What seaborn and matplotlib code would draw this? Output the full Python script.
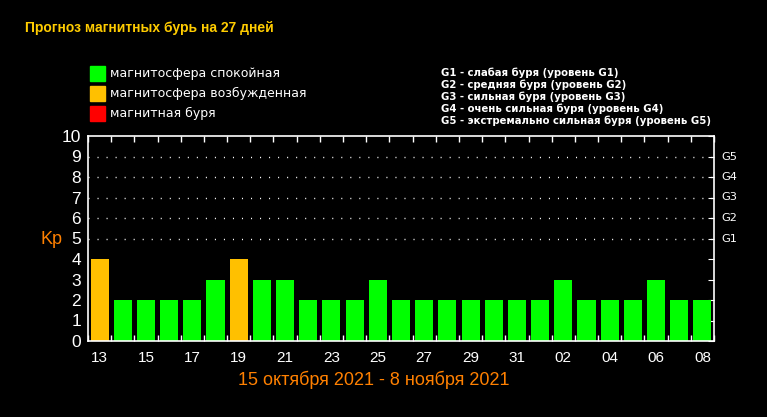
import matplotlib
matplotlib.use("Agg")
import matplotlib.pyplot as plt
import seaborn as sns
import pandas as pd
import numpy as np

days = ["13", "14", "15", "16", "17", "18", "19", "20", "21", "22", "23", "24", "25",
        "26", "27", "28", "29", "30", "31", "01", "02", "03", "04", "05", "06", "07", "08"]
kp = [4, 2, 2, 2, 2, 3, 4, 3, 3, 2, 2, 2, 3, 2, 2, 2, 2, 2, 2, 2, 3, 2, 2, 2, 3, 2, 2]
status = ["возб" if v >= 4 else "спок" for v in kp]
legend_labels = ["магнитосфера спокойная", "магнитосфера возбужденная", "магнитная буря"]
legend_colors = ["#00FF00", "#FFC000", "#FF0000"]
g_levels = ["G1", "G2", "G3", "G4", "G5"]
g_desc = ["G1 - слабая буря (уровень G1)",
          "G2 - средняя буря (уровень G2)",
          "G3 - сильная буря (уровень G3)",
          "G4 - очень сильная буря (уровень G4)",
          "G5 - экстремально сильная буря (уровень G5)"]
title = "Прогноз магнитных бурь на 27 дней"
date_range = "15 октября 2021 - 8 ноября 2021"

sns.set_style("dark")
plt.rcParams['font.family'] = ['DejaVu Sans']

fig = plt.figure(figsize=(7.67, 4.17), dpi=100, facecolor="black")
ax = fig.add_axes([88/767, 1-341/417, (714-88)/767, (341-136)/417])
ax.set_facecolor("black")

df = pd.DataFrame({"pos": np.arange(len(days)), "kp": kp, "status": status})
sns.barplot(data=df, x="pos", y="kp", hue="status", dodge=False, width=0.78,
            palette={"спок": legend_colors[0], "возб": legend_colors[1]},
            legend=False, ax=ax, saturation=1, linewidth=0)

ax.set_xlim(-0.5, len(days)-0.5)
ax.set_ylim(0, 10)
for s in ax.spines.values():
    s.set_color("white")
    s.set_linewidth(1.2)

for y in [5, 6, 7, 8, 9]:
    ax.axhline(y, color="white", linestyle=(0, (0.75, 5.75)), linewidth=1.0)

ax.set_xticks(np.arange(0, len(days), 2))
ax.set_xticklabels(days[::2], color="white", fontsize=11, family="Liberation Sans")
ax.set_xticks(np.arange(-0.5, len(days), 1), minor=True)
ax.tick_params(axis="x", which="major", length=0, pad=7)
ax.tick_params(axis="x", which="minor", direction="in", length=4, color="white",
               top=True, bottom=True, width=1)

ax.set_yticks(range(0, 11))
ax.set_yticklabels([str(i) for i in range(11)], color="white", fontsize=12.5,
                   family="Liberation Sans")
ax.tick_params(axis="y", which="major", left=False, right=True, direction="in",
               length=4, color="white", pad=5)
ax.set_xlabel("")
ax.set_ylabel("")
ax.grid(False)

for i, g in enumerate(g_levels):
    ax.text(1.011, (5+i)/10, g, transform=ax.transAxes, color="white",
            fontsize=8.2, va="center", ha="left")

fig.text(40/767, 1-240/417, "Kp", color="#FF8000", fontsize=13, va="center", ha="left",
         family="Liberation Sans")

fig.text(25/767, 1-28/417, title, color="#FFCC00", fontsize=10, fontweight="bold",
         va="center", ha="left", family="Liberation Sans")

for i, (lab, col) in enumerate(zip(legend_labels, legend_colors)):
    yc = 1 - (73.5 + i*20)/417
    fig.patches.append(plt.Rectangle((90/767, yc-7.5/417), 15/767, 15/417,
                                     transform=fig.transFigure, color=col))
    fig.text(110/767, yc, lab, color="white", fontsize=9, va="center", ha="left")

for i, t in enumerate(g_desc):
    fig.text(441/767, 1-(73+i*12)/417, t, color="white", fontsize=7.3,
             fontweight="bold", va="center", ha="left")

fig.text(374/767, 1-380/417, date_range, color="#FF8000", fontsize=13,
         va="center", ha="center", family="Liberation Sans")

fig.savefig("out.png", dpi=100, facecolor="black")
